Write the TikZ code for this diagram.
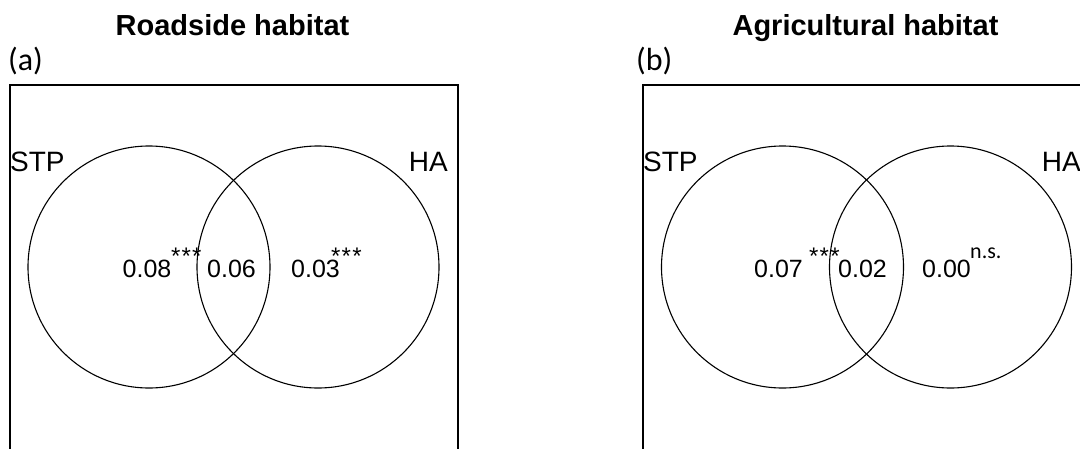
\documentclass[tikz,border=0pt]{standalone}
\usepackage{fontspec}
\setmainfont{Liberation Sans}
\newfontfamily\calib{Carlito}
\newcommand{\threestars}{*\kern1.2pt*\kern1.2pt*}
\begin{document}
\begin{tikzpicture}[x=1pt,y=-1pt,
  vc/.style={circle,draw,minimum size=242pt,inner sep=0pt,line width=1.1pt},
  frame/.style={draw,line width=1.4pt},
  ttl/.style={anchor=base,inner sep=0pt,font=\fontsize{29}{29}\selectfont\bfseries},
  plab/.style={anchor=base west,inner sep=0pt,font=\calib\fontsize{32}{32}\selectfont},
  setlab/.style={inner sep=0pt,font=\fontsize{28}{28}\selectfont},
  val/.style={anchor=base,inner sep=0pt,font=\fontsize{25}{25}\selectfont},
  stars/.style={anchor=base west,inner sep=0pt,font=\fontsize{24}{24}\selectfont},
  sig/.style={anchor=base west,inner sep=0pt,font=\calib\fontsize{22}{22}\selectfont}]
\useasboundingbox (0,0) rectangle (1080,448);
\clip (0,0) rectangle (1080,448);
% panel (a)
\node[ttl] (ta) at (232.5,35) {Roadside habitat};
\node[plab] (la) at (8,70) {(a)};
\draw[frame] (10,85) rectangle (458,470);
\node[vc] (a1) at (149,267) {};
\node[vc] (a2) at (318,267) {};
\node[setlab,anchor=base west] (stpa) at (10,171) {STP};
\node[setlab,anchor=base east] (haa) at (448,171) {HA};
\node[val] (va1) at (147,277) {0.08};
\node[val] (va2) at (231.5,277) {0.06};
\node[val] (va3) at (315.5,277) {0.03};
\node[stars] (sa1) at (171,264.5) {\threestars};
\node[stars] (sa3) at (331,264.5) {\threestars};
% panel (b)
\node[ttl] (tb) at (865.5,35) {Agricultural habitat};
\node[plab] (lb) at (636,70) {(b)};
\draw[frame] (643,85) rectangle (1091,470);
\node[vc] (b1) at (782.5,267) {};
\node[vc] (b2) at (950.5,267) {};
\node[setlab,anchor=base west] (stpb) at (643,171) {STP};
\node[setlab,anchor=base east] (hab) at (1081,171) {HA};
\node[val] (vb1) at (778.5,277) {0.07};
\node[val] (vb2) at (862.5,277) {0.02};
\node[val] (vb3) at (946.5,277) {0.00};
\node[stars] (sb1) at (809,264.5) {\threestars};
\node[sig] (sb3) at (970,258) {n.s.};
\end{tikzpicture}
\end{document}
